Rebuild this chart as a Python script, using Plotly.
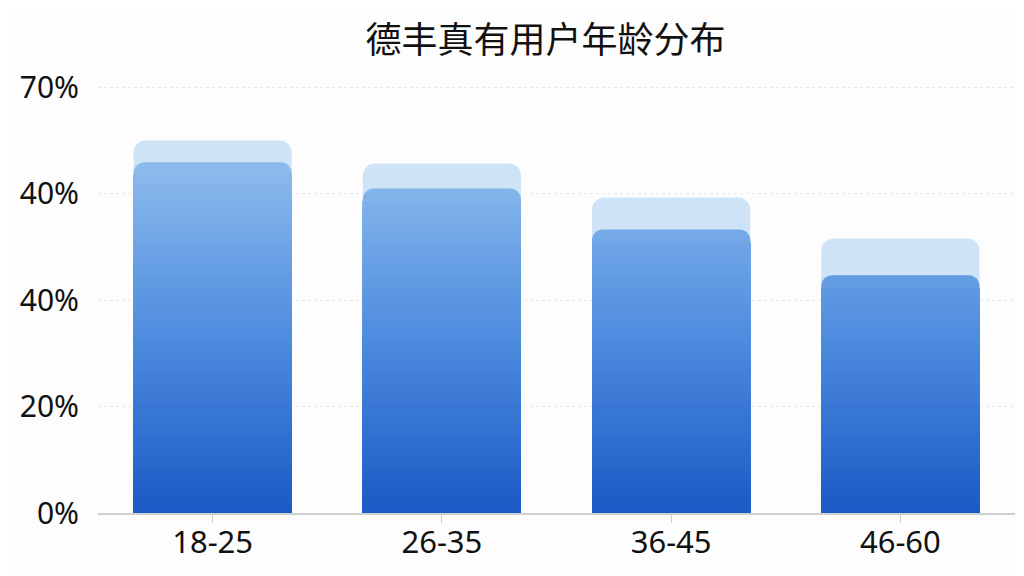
import plotly.graph_objects as go
from plotly.colors import sample_colorscale

# data
age_groups = ["18-25", "26-35", "36-45", "46-60"]
share_front = [65.9, 61.0, 53.3, 44.7]
share_back = [70.0, 65.7, 59.3, 51.6]
tick_vals = [0, 20, 40, 60, 80]
tick_text = ["0%", "20%", "40%", "40%", "70%"]

TITLE = "德丰真有用户年龄分布"
FONT = "Noto Sans CJK SC, Noto Sans, sans-serif"

# vertical gradient: darker at the bottom, lighter towards the top
GRAD = [[0.0, "#1a58c4"], [0.45, "#4c8ade"], [1.0, "#97c3ef"]]
N_LAYERS = 60
TOP = 72.0
CAP = 2.4  # top slice (data units) left to the rounded full bar

BAR_W = 0.69
Y_RANGE = [0, 81]

fig = go.Figure()

# pale background bars (own axes, so plotly rounds them on their own)
fig.add_trace(go.Bar(
    x=age_groups, y=share_back,
    marker=dict(color="#cfe3f7", cornerradius=12, line=dict(width=0)),
    width=BAR_W, hoverinfo="skip", showlegend=False,
))

# full front bars carry the rounded top, coloured like their top end
fig.add_trace(go.Bar(
    x=age_groups, y=share_front, xaxis="x2", yaxis="y2",
    marker=dict(color=sample_colorscale(GRAD, [v / TOP for v in share_front]),
                cornerradius=11, line=dict(width=0)),
    width=BAR_W, hoverinfo="skip", showlegend=False,
))

# square layers underneath the cap fake the vertical gradient
for k in range(N_LAYERS, 0, -1):
    level = TOP * k / N_LAYERS
    color = sample_colorscale(GRAD, [min(level / TOP, 1.0)])[0]
    fig.add_trace(go.Bar(
        x=age_groups, y=[min(v - CAP, level) for v in share_front],
        xaxis="x2", yaxis="y2",
        marker=dict(color=color, cornerradius=0, line=dict(width=0)),
        width=BAR_W, hoverinfo="skip", showlegend=False,
    ))

fig.update_layout(
    width=1024, height=576,
    barmode="overlay",
    paper_bgcolor="#fdfdfd", plot_bgcolor="#fdfdfd",
    margin=dict(l=90, r=17, t=74, b=71),
    font=dict(family=FONT, color="#111111"),
    title=dict(text=TITLE, x=0.525, xanchor="center", y=0.944, yanchor="middle",
               font=dict(size=36, color="#111111")),
    xaxis=dict(
        showgrid=False, showline=True, linecolor="#cfcfcf", linewidth=1.5,
        ticks="outside", ticklen=8, tickcolor="#d0d0d0", ticklabelstandoff=-7,
        tickfont=dict(family="Noto Sans", size=31, color="#111111"),
    ),
    yaxis=dict(
        range=Y_RANGE, tickvals=tick_vals, ticktext=tick_text,
        showgrid=True, gridcolor="#e8e8e8", griddash="dot", gridwidth=1,
        zeroline=False, showline=False, ticks="", ticklabelstandoff=18,
        tickfont=dict(family="Noto Sans", size=30, color="#111111"),
    ),
    xaxis2=dict(overlaying="x", matches="x", visible=False),
    yaxis2=dict(overlaying="y", range=Y_RANGE, visible=False),
)

fig.write_html("out.html")
